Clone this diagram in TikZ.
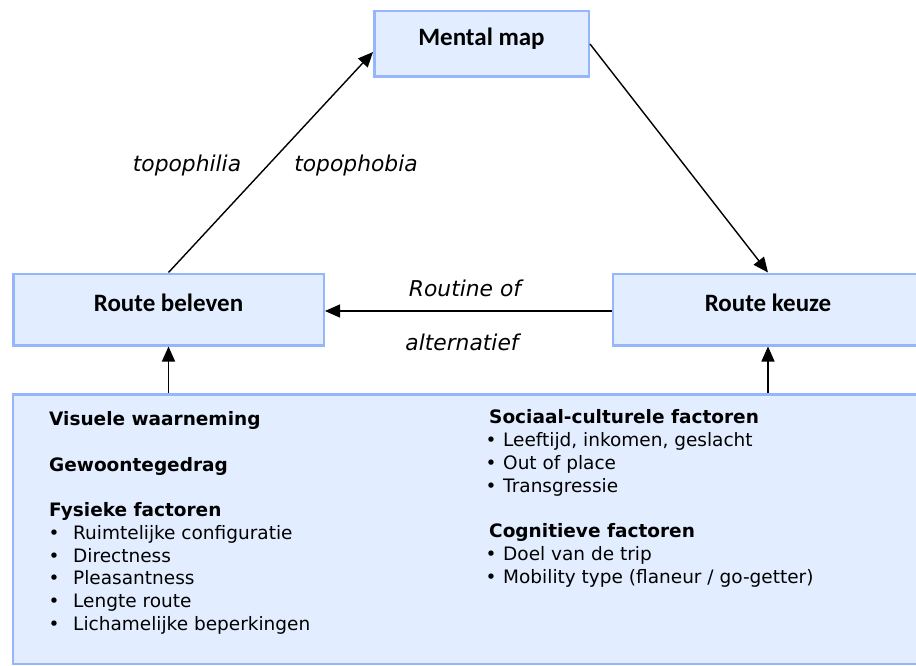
\documentclass[tikz,border=0pt]{standalone}
\usepackage{fontspec}
\usetikzlibrary{arrows.meta,calc}
\newfontfamily\bodyfont{DejaVu Sans}
\newfontfamily\titlefont{Carlito}
\definecolor{boxline}{RGB}{150,182,252}
\definecolor{boxfill}{RGB}{226,238,255}
\tikzset{
  box/.style={draw=boxline, line width=2.5pt, fill=boxfill, inner sep=0pt},
  title/.style={font=\titlefont\bfseries\fontsize{25}{30}\selectfont, text height=17pt, text depth=13pt},
  arr/.style={line width=1.4pt, -{Triangle[length=15pt,width=13pt]}},
  lbl/.style={font=\bodyfont\itshape\fontsize{21.8}{26}\selectfont, inner sep=0pt},
  txt/.style={font=\bodyfont\fontsize{18.5}{22.75}\selectfont, anchor=base west, inner sep=0pt},
  hd/.style={txt, font=\bodyfont\bfseries\fontsize{18.5}{22.75}\selectfont},
}
\begin{document}
\begin{tikzpicture}[x=1pt,y=-1pt]
\path[fill=white, use as bounding box] (0,0) rectangle (916,666);
% boxes
\node[box, title, minimum width=214.5pt, minimum height=65.5pt] (mm) at (481.5,44) {Mental map};
\node[box, title, minimum width=310.5pt, minimum height=71.5pt] (rb) at (168.5,309.5) {Route beleven};
\node[box, title, minimum width=310.5pt, minimum height=71.5pt] (rk) at (768,309.5) {Route keuze};
\node[box, minimum width=911.75pt, minimum height=269.5pt] (fac) at (469,529) {};
% arrows
\draw[arr] (rb.north) -- ([yshift=-8pt]mm.west);
\draw[arr] (mm.east) -- (rk.north);
\draw[arr] ([yshift=-1.5pt]rk.west) -- ([yshift=-1.5pt]rb.east);
\draw[arr] (fac.north -| rb.south) -- (rb.south);
\draw[arr] (fac.north -| rk.south) -- (rk.south);
% labels
\node[lbl] (l1) at (187,165) {topophilia};
\node[lbl] (l2) at (356,165) {topophobia};
\node[lbl] (l3) at (465,288) {Routine of};
\node[lbl] (l4) at (462,342) {alternatief};
% left column
\node[hd] (a1) at (49,425.5) {Visuele waarneming};
\node[hd] (a2) at (49,471) {Gewoontegedrag};
\node[hd] (a3) at (49,516.5) {Fysieke factoren};
\foreach \t [count=\i] in {Ruimtelijke configuratie, Directness, Pleasantness, Lengte route, Lichamelijke beperkingen}{
  \node[txt] (ab\i) at (48.5,516.5+22.75*\i) {•};
  \node[txt] (at\i) at (73,516.5+22.75*\i) {\t};
}
% right column
\node[hd] (b1) at (489,423.5) {Sociaal-culturele factoren};
\foreach \t [count=\i] in {{Leeftijd, inkomen, geslacht}, Out of place, Transgressie}{
  \node[txt] (bb\i) at (485.5,423.5+22.9*\i) {•};
  \node[txt] (bt\i) at (503,423.5+22.9*\i) {\t};
}
\node[hd] (c1) at (489,537.5) {Cognitieve factoren};
\foreach \t [count=\i] in {Doel van de trip, Mobility type (flaneur / go-getter)}{
  \node[txt] (cb\i) at (485.5,537.5+22.9*\i) {•};
  \node[txt] (ct\i) at (503,537.5+22.9*\i) {\t};
}
\end{tikzpicture}
\end{document}
